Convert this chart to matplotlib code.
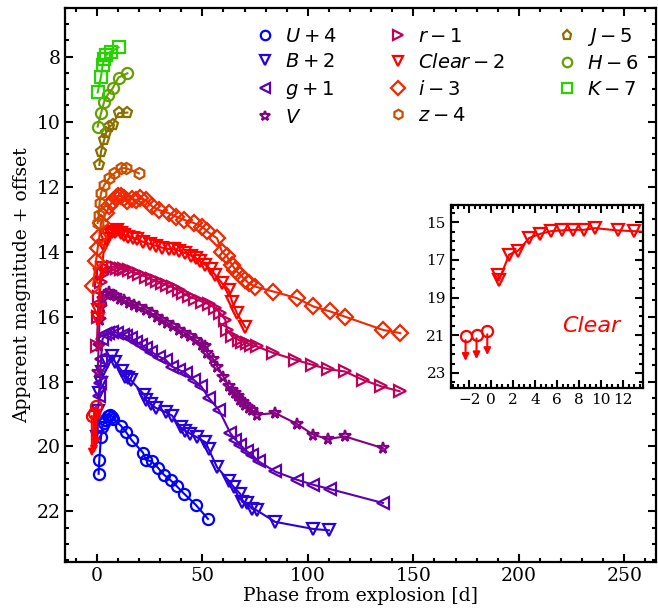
import numpy as np
import matplotlib
matplotlib.use('Agg')
import matplotlib.pyplot as plt
from matplotlib.lines import Line2D
from matplotlib.ticker import MultipleLocator, AutoMinorLocator

plt.rcParams['font.family'] = 'DejaVu Serif'
plt.rcParams['mathtext.fontset'] = 'dejavusans'

# light curves, values already shifted by the offsets in the legend
U_t = [0.85, 1.2, 2.0, 2.6, 3.5, 4.0, 5.4, 6.2, 7.3, 7.8, 11.4, 13.8, 16.6, 21.9, 23.2,
       26.0, 28.9, 31.8, 35.0, 38.0, 41.3, 46.8, 52.7]
U_m = [20.84, 20.41, 19.7, 19.39, 19.27, 19.18, 19.05, 19.02, 19.08, 19.15, 19.36, 19.55,
       19.81, 20.19, 20.41, 20.46, 20.65, 20.87, 21.04, 21.23, 21.45, 21.79, 22.23]

B_t = [0.3, 0.6, 1.2, 2.0, 2.6, 5.0, 7.3, 8.7, 11.9, 13.2, 14.8, 16.0, 22.4, 23.2, 25.6,
       27.9, 32.6, 35.7, 39.7, 41.7, 44.4, 47.6, 51.5, 53.0, 57.0, 62.5, 64.9, 68.0, 68.8,
       71.1, 73.5, 75.9, 84.5, 102.6, 110.0]
B_m = [19.7, 18.9, 18.35, 18.05, 17.7, 17.4, 17.2, 17.4, 17.68, 17.85, 17.9, 17.95, 18.4,
       18.57, 18.7, 18.81, 18.94, 19.05, 19.41, 19.51, 19.61, 19.72, 19.87, 20.08, 20.64,
       21.05, 21.25, 21.46, 21.7, 21.75, 21.91, 21.97, 22.32, 22.54, 22.58]

g_t = [0.85, 1.5, 2.0, 2.7, 4.0, 5.5, 7.3, 9.5, 12.2, 14.0, 16.1, 18.5, 20.9, 23.2, 25.6,
       29.5, 32.6, 35.7, 38.9, 42.1, 46.0, 49.5, 53.0, 57.8, 63.3, 65.7, 68.0, 71.1, 73.5,
       76.7, 84.5, 94.7, 102.6, 110.5, 135.6]
g_m = [18.44, 18.04, 17.3, 16.7, 16.55, 16.5, 16.46, 16.5, 16.56, 16.6, 16.66, 16.78, 16.87,
       16.97, 17.08, 17.23, 17.33, 17.54, 17.64, 17.74, 17.95, 18.15, 18.5, 18.87, 19.59,
       19.79, 19.95, 20.15, 20.25, 20.46, 20.77, 21.02, 21.18, 21.31, 21.74]

V_t = [0.4, 0.9, 1.3, 2.0, 3.0, 4.5, 6.0, 7.5, 9.0, 11.0, 13.0, 15.3, 17.5, 20.0, 23.2,
       26.0, 28.5, 31.0, 33.5, 36.0, 38.9, 41.5, 44.0, 46.8, 49.9, 51.5, 52.3, 55.0, 57.0,
       60.0, 62.5, 64.0, 65.7, 67.0, 68.0, 69.2, 70.4, 72.0, 73.5, 75.8, 84.5, 94.7, 102.6,
       109.7, 117.5, 135.6]
V_m = [17.7, 16.9, 16.1, 15.7, 15.45, 15.3, 15.25, 15.33, 15.38, 15.45, 15.5, 15.59, 15.65,
       15.72, 15.79, 15.9, 16.0, 16.1, 16.2, 16.3, 16.41, 16.5, 16.6, 16.72, 16.87, 16.92,
       17.12, 17.3, 17.54, 17.85, 18.15, 18.25, 18.36, 18.45, 18.56, 18.64, 18.72, 18.8,
       18.87, 19.02, 18.97, 19.3, 19.64, 19.77, 19.69, 20.05]

r_t = [0.0, 0.5, 1.0, 2.0, 3.0, 5.0, 7.5, 9.5, 11.5, 13.0, 15.3, 17.5, 20.0, 23.2, 26.0,
       28.5, 31.0, 33.5, 36.0, 38.9, 41.0, 43.6, 46.5, 49.9, 53.0, 56.2, 58.5, 60.9, 61.7,
       64.1, 67.2, 69.0, 71.1, 73.0, 75.8, 83.7, 94.0, 101.8, 109.7, 117.5, 126.2, 134.8,
       143.5]
r_m = [16.9, 16.0, 15.4, 14.95, 14.7, 14.55, 14.46, 14.5, 14.53, 14.55, 14.56, 14.63, 14.7,
       14.77, 14.85, 14.9, 14.97, 15.03, 15.1, 15.18, 15.28, 15.38, 15.45, 15.54, 15.62,
       15.74, 15.9, 16.1, 16.41, 16.61, 16.72, 16.77, 16.82, 16.87, 16.92, 17.12, 17.33,
       17.48, 17.62, 17.69, 17.95, 18.15, 18.3]

clear_t = [0.61, 0.7, 1.62, 2.45, 3.45, 4.46, 5.45, 6.45, 7.44, 8.42, 9.43, 11.5, 13.0, 15.0,
           17.0, 19.0, 22.0, 25.0, 28.0, 31.0, 34.0, 36.5, 38.9, 42.0, 44.5, 46.8, 49.0, 51.5,
           54.0, 56.2, 59.3, 62.5, 64.1, 66.4, 70.4]
clear_m = [15.79, 16.08, 14.72, 14.51, 13.84, 13.62, 13.48, 13.44, 13.41, 13.41, 13.32, 13.44,
           13.48, 13.55, 13.58, 13.62, 13.70, 13.76, 13.82, 13.88, 13.92, 13.93, 13.97, 14.05,
           14.12, 14.2, 14.3, 14.41, 14.55, 14.72, 14.97, 15.18, 15.54, 15.9, 16.33]
# Clear non-detections (upper limits), shifted by -2 as well
lim_t = [-2.35, -1.35, -0.37]
lim_m = [19.06, 18.97, 18.75]

i_t = [-1.8, -0.4, 0.4, 1.2, 2.0, 4.3, 5.9, 7.5, 9.1, 10.2, 11.4, 13.0, 14.5, 16.5, 18.5,
       20.5, 23.2, 26.3, 29.5, 34.2, 37.4, 41.3, 46.0, 49.9, 52.3, 57.0, 59.3, 61.7, 64.1,
       65.7, 68.0, 70.4, 71.9, 75.1, 83.7, 94.7, 102.6, 110.5, 117.5, 135.6, 143.8]
i_m = [15.05, 14.3, 13.9, 13.54, 13.12, 12.82, 12.61, 12.45, 12.36, 12.3, 12.3, 12.35, 12.43,
       12.38, 12.41, 12.36, 12.41, 12.61, 12.72, 12.82, 12.92, 13.02, 13.12, 13.23, 13.38,
       13.59, 14.0, 14.15, 14.41, 14.56, 14.72, 14.87, 14.97, 15.08, 15.23, 15.43, 15.69,
       15.84, 16.0, 16.41, 16.51]

z_t = [0.4, 0.9, 1.3, 2.0, 3.5, 5.9, 8.3, 11.4, 13.8, 20.0]
z_m = [13.12, 12.87, 12.51, 12.2, 11.95, 11.74, 11.59, 11.43, 11.43, 11.59]

J_t = [1.2, 2.0, 3.5, 4.3, 5.9, 7.5, 10.3, 14.5]
J_m = [11.33, 10.92, 10.56, 10.36, 10.15, 10.1, 9.74, 9.72]

H_t = [0.4, 2.0, 3.5, 5.1, 7.5, 10.3, 14.5]
H_m = [10.15, 9.74, 9.38, 9.18, 8.97, 8.64, 8.51]

K_t = [0.4, 2.0, 2.8, 3.5, 4.3, 6.7, 10.3]
K_m = [9.1, 8.61, 8.25, 8.08, 7.95, 7.84, 7.71]

bands = [
    ('$U+4$', U_t, U_m, 'o', '#0000ff', 8),
    ('$B+2$', B_t, B_m, 'v', '#2a00dc', 8),
    ('$g+1$', g_t, g_m, '<', '#5c00b4', 8),
    ('$V$', V_t, V_m, '*', '#820082', 8.5),
    ('$r-1$', r_t, r_m, '>', '#be0058', 8),
    ('$Clear-2$', clear_t, clear_m, 'v', '#ff0000', 8),
    ('$i-3$', i_t, i_m, 'D', '#f02800', 8.5),
    ('$z-4$', z_t, z_m, 'h', '#c85000', 8),
    ('$J-5$', J_t, J_m, 'p', '#8c6e00', 8),
    ('$H-6$', H_t, H_m, 'o', '#64a000', 8),
    ('$K-7$', K_t, K_m, 's', '#28d200', 8),
]


def style_axis(ax, size):
    ax.tick_params(which='both', direction='in', top=True, right=True, labelsize=size)
    ax.tick_params(which='major', length=6, width=1.5)
    ax.tick_params(which='minor', length=3, width=1.5)
    for sp in ax.spines.values():
        sp.set_linewidth(1.6)


fig = plt.figure(figsize=(6.58, 6.16), dpi=100)
ax = fig.add_axes([0.099, 0.088, 0.898, 0.899])

handles = []
for label, t, m, mk, col, ms in bands:
    ax.plot(t, m, marker=mk, color=col, mfc='none', mec=col, mew=1.6, ms=ms, lw=1.5)
    handles.append(Line2D([], [], ls='none', marker=mk, color=col, mfc='none', mew=1.6,
                          ms=ms, label=label))

ax.plot(lim_t, lim_m, ls='none', marker='o', color='#ff0000', mfc='none', mew=1.6, ms=8)
for t, m in zip(lim_t, lim_m):
    ax.annotate('', xy=(t, m + 1.25), xytext=(t, m),
                arrowprops=dict(arrowstyle='-|>', color='#ff0000', lw=1.5,
                                shrinkA=0, shrinkB=0, mutation_scale=10))

ax.set_xlim(-15, 265)
ax.set_ylim(23.55, 6.5)
ax.xaxis.set_major_locator(MultipleLocator(50))
ax.xaxis.set_minor_locator(MultipleLocator(10))
ax.yaxis.set_major_locator(MultipleLocator(2))
ax.yaxis.set_minor_locator(MultipleLocator(0.5))
style_axis(ax, 13.5)
ax.set_xlabel('Phase from explosion [d]', fontsize=13.5, labelpad=2)
ax.set_ylabel('Apparent magnitude + offset', fontsize=13.5, labelpad=4)

ax.legend(handles=handles, ncol=3, loc='upper right', bbox_to_anchor=(1.0, 1.0),
          frameon=False, fontsize=14, markerscale=0.85, handlelength=1.0,
          handletextpad=0.5, columnspacing=2.7, labelspacing=0.4)

# inset with the early Clear light curve
ins = fig.add_axes([0.685, 0.370, 0.292, 0.297])
clear_raw = np.array(clear_m) + 2
ins.plot(clear_t, clear_raw, marker='v', color='#ff0000', mfc='none', mew=1.6, ms=8, lw=1.5)
lim_raw = np.array(lim_m) + 2
ins.plot(lim_t, lim_raw, ls='none', marker='o', color='#ff0000', mfc='none', mew=1.6, ms=8)
for t, m in zip(lim_t, lim_raw):
    ins.annotate('', xy=(t, m + 1.3), xytext=(t, m + 0.2),
                 arrowprops=dict(arrowstyle='-|>', color='#ff0000', lw=1.5,
                                 shrinkA=0, shrinkB=0, mutation_scale=10))
ins.set_xlim(-3.7, 13.8)
ins.set_ylim(23.8, 14.1)
ins.set_xticks([-2, 0, 2, 4, 6, 8, 10, 12])
ins.set_yticks([15, 17, 19, 21, 23])
ins.xaxis.set_minor_locator(AutoMinorLocator(4))
ins.yaxis.set_minor_locator(AutoMinorLocator(4))
style_axis(ins, 11)
ins.text(0.73, 0.34, 'Clear', transform=ins.transAxes, color='#ff0000', fontsize=16,
         style='italic', family='DejaVu Sans', ha='center', va='center')

fig.savefig('out.png', dpi=100)
